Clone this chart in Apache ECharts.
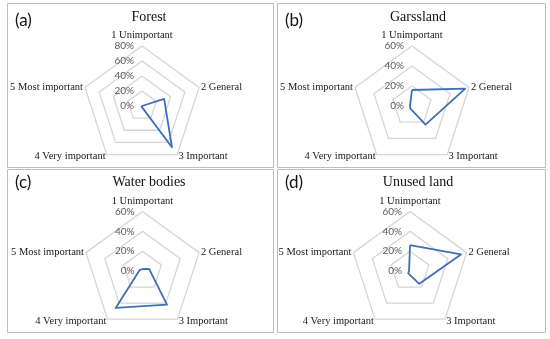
<!DOCTYPE html>
<html>
<head>
<meta charset="utf-8">
<script src="https://cdn.jsdelivr.net/npm/echarts@6/dist/echarts.min.js"></script>
<style>
html,body{margin:0;padding:0;background:#fff;}
#chart{width:550px;height:339px;}
</style>
</head>
<body>
<div id="chart"></div>
<script>
// ---- data ----
const indicatorNames = ['1 Unimportant', '2 General', '3 Important', '4 Very important', '5 Most important'];
const panelLabels = ['(a)', '(b)', '(c)', '(d)'];
const panelTitles = ['Forest', 'Garssland', 'Water bodies', 'Unused land'];
const forestValues = [0, 31, 68, 1, 0];
const grasslandValues = [16, 56, 23, 3, 2];
const waterValues = [2, 7, 42, 46, 3];
const unusedValues = [26, 54, 16, 3, 1];
const axisMax = [80, 60, 60, 60];
const axisSplits = [4, 3, 3, 3];

// ---- layout ----
const panels = [
  {box: [7, 3, 266, 164], center: [142, 106], radius: 60, titleY: 5, labelY: 7},
  {box: [277, 3, 268, 164], center: [412, 106], radius: 60, titleY: 5, labelY: 7},
  {box: [7, 169, 266, 163], center: [142.5, 271], radius: 59.5, titleY: 170, labelY: 169},
  {box: [277, 169, 268, 163], center: [410, 271], radius: 59.5, titleY: 170, labelY: 169}
];
const seriesValues = [forestValues, grasslandValues, waterValues, unusedValues];
const labelX = [10, 280, 10, 280];
// clockwise drawing order: ECharts lays indicators counter-clockwise
const order = [0, 4, 3, 2, 1];

const chart = echarts.init(document.getElementById('chart'), null, {renderer: 'canvas'});

const radars = panels.map((p, i) => ({
  center: p.center,
  radius: p.radius,
  startAngle: 90,
  shape: 'polygon',
  splitNumber: axisSplits[i],
  indicator: order.map((k) => {
    const o = {name: indicatorNames[k], max: axisMax[i], min: 0};
    if (k === 0) { o.axisLabel = {show: true}; o.nameGap = -1; }
    return o;
  }),
  nameGap: 2,
  axisName: {color: '#1a1a1a', fontFamily: 'Liberation Serif', fontSize: 10.5},
  axisLine: {show: false},
  axisTick: {show: false},
  axisLabel: {show: false, color: '#595959', fontFamily: 'Lato', fontSize: 10, formatter: '{value}%', margin: 8, align: 'right'},
  splitLine: {lineStyle: {color: '#d6d6d6', width: 1.3}},
  splitArea: {show: false}
}));

const series = seriesValues.map((vals, i) => ({
  type: 'radar',
  radarIndex: i,
  symbol: 'none',
  silent: true,
  lineStyle: {color: '#3f6fb6', width: 1.8},
  data: [{value: order.map(k => vals[k])}]
}));

const titles = [];
panels.forEach((p, i) => {
  titles.push({
    text: panelTitles[i],
    left: p.box[0] + p.box[2] / 2 + (i % 2 === 0 ? 4 : 2),
    top: p.titleY,
    textAlign: 'center',
    textStyle: {fontFamily: 'Liberation Serif', fontSize: 14, fontWeight: 'normal', color: '#111'}
  });
  titles.push({
    text: panelLabels[i],
    left: labelX[i],
    top: p.labelY,
    textStyle: {fontFamily: 'Lato', fontSize: 17, fontWeight: 'normal', color: '#111'}
  });
});

const graphics = panels.map(p => ({
  type: 'rect',
  shape: {x: p.box[0] + 0.5, y: p.box[1] + 0.5, width: p.box[2], height: p.box[3]},
  style: {fill: 'none', stroke: '#bdbdbd', lineWidth: 1},
  silent: true
}));

chart.setOption({
  animation: false,
  backgroundColor: '#fff',
  title: titles,
  radar: radars,
  series: series,
  graphic: graphics
});
</script>
</body>
</html>
